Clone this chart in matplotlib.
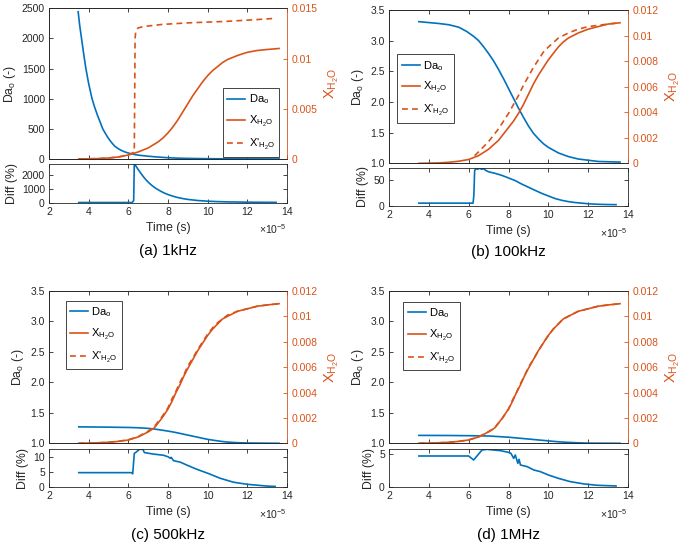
import matplotlib
matplotlib.use('Agg')
import matplotlib.pyplot as plt

plt.rcParams['font.family'] = ['Liberation Sans', 'DejaVu Sans']
plt.rcParams['mathtext.fontset'] = 'custom'
plt.rcParams['mathtext.rm'] = 'Liberation Sans'
plt.rcParams['mathtext.it'] = 'Liberation Sans:italic'

BLUE = '#0072BD'
ORANGE = '#D95319'
AXC = '#262626'

# time in units of 1e-5 s
# ---- (a) 1kHz
t_da_a = [3.47, 3.55, 3.64, 3.75, 3.86, 4.0, 4.17, 4.3, 4.45, 4.6, 4.71, 4.85, 5.0, 5.15, 5.3, 5.45,
          5.6, 5.75, 5.9, 6.1, 6.3, 6.5, 6.75, 7.0, 7.5, 8.0, 8.5, 9.0, 10.0, 11.0, 12.0, 13.6]
da_a = [2443, 2210, 2000, 1740, 1500, 1250, 1000, 860, 720, 595, 500, 420, 340, 275, 218, 180,
        150, 127, 109, 90, 75, 64, 55, 46, 32, 21, 14, 10, 5, 3, 2, 1]
t_x_a = [3.5, 4.5, 5.0, 5.5, 6.0, 6.5, 7.0, 7.25, 7.5, 7.75, 8.0, 8.25, 8.5, 8.75, 9.0, 9.25, 9.5,
         9.75, 10.0, 10.25, 10.5, 10.75, 11.0, 11.5, 12.0, 12.5, 13.0, 13.6]
x_a = [0, 0.00004, 0.0001, 0.0002, 0.0004, 0.0007, 0.0011, 0.0014, 0.0017, 0.0021, 0.0026, 0.0032,
       0.0039, 0.0047, 0.0055, 0.0063, 0.0070, 0.0077, 0.0083, 0.0088, 0.0092, 0.0096, 0.0099,
       0.0103, 0.01062, 0.0108, 0.0109, 0.0110]
t_xp_a = [3.5, 4.5, 5.0, 5.5, 6.0, 6.3, 6.32, 6.34, 6.37, 6.42, 6.5, 6.6, 6.75, 7.67, 9.0, 10.96, 12.5, 13.4]
xp_a = [0, 0.00004, 0.0001, 0.0002, 0.0004, 0.0007, 0.0060, 0.0120, 0.0126, 0.0129, 0.01305, 0.0131,
        0.01318, 0.01339, 0.01355, 0.0137, 0.01388, 0.0140]
t_diff_a = [3.5, 6.2, 6.27, 6.3, 6.4, 6.5, 6.6, 6.75, 6.9, 7.05, 7.2, 7.4, 7.6, 7.8, 8.0, 8.25, 8.5,
            8.75, 9.0, 9.5, 10.0, 10.5, 11.0, 12.0, 13.45]
diff_a = [0, 0, 150, 2850, 2620, 2400, 2200, 1900, 1640, 1420, 1230, 1020, 850, 700, 580, 460, 360,
          285, 225, 145, 95, 65, 45, 22, 10]

# ---- (b) 100kHz
t_da_b = [3.5, 4.0, 4.5, 5.0, 5.5, 5.9, 6.25, 6.5, 6.75, 7.0, 7.25, 7.5, 7.75, 8.0, 8.25, 8.5, 8.75,
          9.0, 9.25, 9.5, 9.75, 10.0, 10.5, 11.0, 11.5, 12.0, 12.5, 13.0, 13.6]
da_b = [3.31, 3.295, 3.28, 3.26, 3.22, 3.15, 3.07, 3.0, 2.9, 2.79, 2.67, 2.53, 2.38, 2.22, 2.06, 1.90,
        1.75, 1.61, 1.49, 1.40, 1.32, 1.26, 1.17, 1.11, 1.07, 1.05, 1.03, 1.025, 1.02]
t_x_b = [3.5, 4.5, 5.0, 5.5, 6.0, 6.5, 7.0, 7.5, 7.75, 8.0, 8.25, 8.5, 8.75, 9.0, 9.25, 9.5, 9.75,
         10.0, 10.25, 10.5, 10.75, 11.0, 11.5, 12.0, 12.5, 13.0, 13.6]
x_b = [0, 0.00003, 0.00008, 0.00016, 0.0003, 0.0006, 0.0011, 0.0018, 0.0023, 0.0028, 0.0033, 0.0039,
       0.0046, 0.0054, 0.0062, 0.0069, 0.0075, 0.0081, 0.0086, 0.0091, 0.0095, 0.0098, 0.0102,
       0.0105, 0.0107, 0.0109, 0.0110]
t_xp_b = [6.3, 6.5, 6.75, 7.0, 7.25, 7.5, 7.75, 8.0, 8.25, 8.5, 8.75, 9.0, 9.25, 9.5, 9.75, 10.0,
          10.5, 11.0, 11.5, 12.0, 12.5, 13.0, 13.6]
xp_b = [0.0006, 0.0009, 0.0013, 0.0017, 0.0022, 0.0027, 0.0033, 0.0039, 0.0046, 0.0053, 0.0061,
        0.0068, 0.0075, 0.0081, 0.0087, 0.0091, 0.0098, 0.0102, 0.0105, 0.0107, 0.0108, 0.0109, 0.0110]
t_diff_b = [3.5, 6.22, 6.26, 6.3, 6.35, 6.45, 6.55, 6.65, 6.75, 6.85, 7.0, 7.33, 7.67, 8.0, 8.33,
            8.67, 9.0, 9.33, 9.67, 10.0, 10.33, 10.67, 11.0, 11.33, 11.67, 12.0, 12.33, 12.8, 13.4]
diff_b = [5, 5, 20, 68, 72, 71, 73, 71, 72, 69, 66, 63, 59, 54, 49, 42, 36, 30, 24, 19, 14, 10.5,
          8, 6.2, 5, 3.8, 3, 2.4, 2]

# ---- (c) 500kHz
t_da_c = [3.5, 5.0, 6.0, 6.5, 7.0, 7.25, 7.5, 7.75, 8.0, 8.25, 8.5, 8.75, 9.0, 9.25, 9.5, 9.75,
          10.0, 10.25, 10.5, 10.75, 11.0, 11.5, 12.0, 13.6]
da_c = [1.27, 1.265, 1.26, 1.255, 1.245, 1.237, 1.225, 1.213, 1.2, 1.186, 1.17, 1.152, 1.135, 1.117,
        1.1, 1.082, 1.065, 1.052, 1.04, 1.029, 1.02, 1.01, 1.005, 1.0]
t_x_c = [3.5, 4.5, 5.0, 5.5, 6.0, 6.5, 7.0, 7.3, 7.5, 7.7, 8.0, 8.2, 8.4, 8.6, 8.8, 9.0, 9.25, 9.5,
         9.75, 10.0, 10.25, 10.5, 10.75, 11.0, 11.5, 12.0, 12.5, 13.0, 13.6]
x_c = [0, 0.00004, 0.00008, 0.00015, 0.00026, 0.0005, 0.0009, 0.0012, 0.0016, 0.0020, 0.0027,
       0.0033, 0.0040, 0.0046, 0.0053, 0.0059, 0.0066, 0.0073, 0.0079, 0.0085, 0.0090, 0.0094,
       0.0098, 0.0100, 0.0104, 0.0106, 0.0108, 0.0109, 0.0110]
t_xp_c = t_x_c
xp_c = [0, 0.00004, 0.00008, 0.00016, 0.00028, 0.00053, 0.00096, 0.0013, 0.0017, 0.0021, 0.0028,
        0.0035, 0.0041, 0.0048, 0.0054, 0.0061, 0.0067, 0.0074, 0.0080, 0.0086, 0.0091, 0.0095,
        0.0098, 0.0101, 0.0104, 0.0106, 0.0108, 0.0109, 0.0110]
t_diff_c = [3.5, 6.17, 6.22, 6.3, 6.42, 6.56, 6.73, 6.81, 7.27, 7.78, 8.0, 8.12, 8.16, 8.28, 8.62,
            8.96, 9.46, 10.0, 10.64, 11.3, 12.0, 13.0, 13.4]
diff_c = [4.9, 4.9, 4.5, 11.3, 11.9, 12.7, 12.7, 11.6, 11.1, 10.7, 10.2, 9.7, 10.0, 8.9, 8.4, 7.4,
          6.0, 4.7, 3.0, 1.7, 1.0, 0.4, 0.3]

# ---- (d) 1MHz
t_da_d = [3.5, 5.0, 6.0, 7.0, 7.5, 8.0, 8.5, 9.0, 9.5, 10.0, 10.5, 11.0, 11.5, 12.0, 13.6]
da_d = [1.13, 1.128, 1.125, 1.12, 1.11, 1.10, 1.085, 1.07, 1.055, 1.04, 1.025, 1.015, 1.008, 1.003, 1.0]
t_x_d = t_x_c
x_d = x_c
t_xp_d = t_x_c
xp_d = [0, 0.00004, 0.00008, 0.00015, 0.00027, 0.00051, 0.00092, 0.0012, 0.0016, 0.0020, 0.0027,
        0.0034, 0.0040, 0.0047, 0.0053, 0.0060, 0.0066, 0.0073, 0.0079, 0.0085, 0.0090, 0.0094,
        0.0098, 0.0100, 0.0104, 0.0106, 0.0108, 0.0109, 0.0110]
t_diff_d = [3.5, 6.0, 6.25, 6.67, 6.92, 7.6, 8.0, 8.12, 8.26, 8.34, 8.47, 8.53, 8.6, 8.94, 9.27, 9.6,
            10.0, 10.5, 11.1, 11.8, 12.46, 13.4]
diff_d = [4.7, 4.7, 4.1, 5.6, 5.7, 5.5, 5.25, 5.1, 4.35, 4.85, 3.6, 4.2, 3.35, 3.1, 2.6, 2.35, 1.85,
          1.35, 0.85, 0.5, 0.3, 0.2]

captions = ['(a) 1kHz', '(b) 100kHz', '(c) 500kHz', '(d) 1MHz']
x_ticks = [2, 4, 6, 8, 10, 12, 14]

W, H = 685, 544


def rect(x0, x1, ytop, ybot):
    return [x0 / W, 1 - ybot / H, (x1 - x0) / W, (ybot - ytop) / H]


def style(ax):
    ax.tick_params(direction='in', length=3, width=0.6, labelsize=7.5, colors=AXC, pad=3)
    for s in ax.spines.values():
        s.set_color(AXC)
        s.set_linewidth(0.6)


def panel(x0, x1, ytop, ybot, dtop, dbot, t_da, da, t_x, x, t_xp, xp, t_d, d,
          dalim, daticks, xlim, xticks, xticklabels, dlim, dticks, leg_xy, cap, cap_y):
    ax = fig.add_axes(rect(x0, x1, ytop, ybot))
    style(ax)
    ax.plot(t_da, da, color=BLUE, lw=1.2, label=r'Da$_\mathrm{o}$')
    ax.set_xlim(2, 14)
    ax.set_ylim(*dalim)
    ax.set_yticks(daticks)
    ax.set_xticks(x_ticks)
    ax.tick_params(labelbottom=False, top=True, right=False)
    ax.spines['right'].set_visible(False)
    ax.set_ylabel(r'Da$_\mathrm{o}$ (-)', fontsize=8.8, color=AXC, labelpad=3)

    ax2 = ax.twinx()
    ax2.plot(t_x, x, color=ORANGE, lw=1.2, label=r'X$_\mathrm{H_2O}$')
    ax2.plot(t_xp, xp, color=ORANGE, lw=1.2, ls=(0, (3.5, 2.5)), label=r"X'$_\mathrm{H_2O}$")
    ax2.set_ylim(*xlim)
    ax2.set_yticks(xticks)
    ax2.set_yticklabels(xticklabels)
    ax2.tick_params(direction='in', length=3, width=0.6, labelsize=7.5, colors=ORANGE, pad=3)
    for k, s in ax2.spines.items():
        s.set_linewidth(0.6)
        s.set_color(ORANGE if k == 'right' else AXC)
    ax2.set_ylabel(r'X$_\mathrm{H_2O}$', fontsize=10.5, color=ORANGE, labelpad=4)

    h1, l1 = ax.get_legend_handles_labels()
    h2, l2 = ax2.get_legend_handles_labels()
    leg = ax2.legend(h1 + h2, l1 + l2, loc='upper left', bbox_to_anchor=leg_xy,
                     fontsize=8, handlelength=1.6, labelspacing=0.7, borderpad=0.4,
                     handletextpad=0.3, borderaxespad=0, fancybox=False, framealpha=1)
    leg.get_frame().set_edgecolor(AXC)
    leg.get_frame().set_linewidth(0.6)

    axd = fig.add_axes(rect(x0, x1, dtop, dbot))
    style(axd)
    axd.plot(t_d, d, color=BLUE, lw=1.2)
    axd.set_xlim(2, 14)
    axd.set_xticks(x_ticks)
    axd.set_ylim(*dlim)
    axd.set_yticks(dticks)
    axd.tick_params(top=True, right=True)
    axd.set_ylabel('Diff (%)', fontsize=8.8, color=AXC, labelpad=3)
    axd.set_xlabel('Time (s)', fontsize=8.8, color=AXC, labelpad=3.5)
    fig.text(x1 / W, 1 - (dbot + 27) / H, r'$\times$10$^{-5}$', fontsize=7.5,
             color=AXC, ha='right', va='center')
    fig.text((x0 + x1) / 2 / W, 1 - cap_y / H, cap, fontsize=11, ha='center', va='center')


fig = plt.figure(figsize=(6.85, 5.44), dpi=100)

panel(49, 287, 8.3, 159, 163.5, 202.5, t_da_a, da_a, t_x_a, x_a, t_xp_a, xp_a, t_diff_a, diff_a,
      (0, 2500), [0, 500, 1000, 1500, 2000, 2500], (0, 0.015), [0, 0.005, 0.01, 0.015],
      ['0', '0.005', '0.01', '0.015'], (0, 2850), [0, 1000, 2000], (0.731, 0.47), captions[0], 251)

xt = [0, 0.002, 0.004, 0.006, 0.008, 0.01, 0.012]
xtl = ['0', '0.002', '0.004', '0.006', '0.008', '0.01', '0.012']
dat = [1, 1.5, 2, 2.5, 3, 3.5]

panel(389, 628, 10, 163.3, 167.7, 205.7, t_da_b, da_b, t_x_b, x_b, t_xp_b, xp_b, t_diff_b, diff_b,
      (1, 3.5), dat, (0, 0.012), xt, xtl, (0, 74), [0, 50], (0.035, 0.711), captions[1], 252)

panel(49, 287, 291, 443.3, 449, 487.3, t_da_c, da_c, t_x_c, x_c, t_xp_c, xp_c, t_diff_c, diff_c,
      (1, 3.5), dat, (0, 0.012), xt, xtl, (0, 12.8), [0, 5, 10], (0.070, 0.936), captions[2], 535.5)

panel(389, 628, 291, 443.3, 449, 487.3, t_da_d, da_d, t_x_d, x_d, t_xp_d, xp_d, t_diff_d, diff_d,
      (1, 3.5), dat, (0, 0.012), xt, xtl, (0, 5.75), [0, 5], (0.060, 0.93), captions[3], 535.5)

fig.savefig('out.png', dpi=100)
